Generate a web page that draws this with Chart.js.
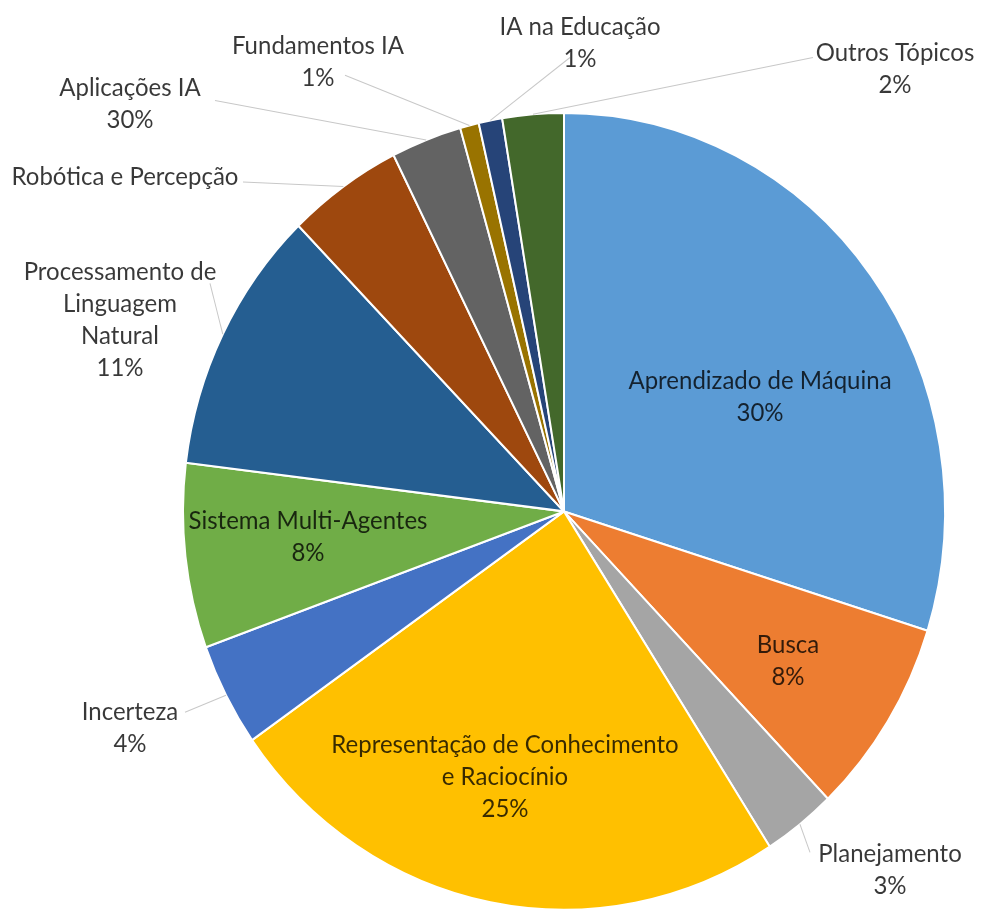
<!DOCTYPE html>
<html>
<head>
<meta charset="utf-8">
<title>Tópicos de IA</title>
<script src="https://cdn.jsdelivr.net/npm/chart.js@4.4.1/dist/chart.umd.min.js"></script>
<style>
  html, body { margin: 0; padding: 0; background: #fff; }
  #box { width: 989px; height: 914px; }
</style>
</head>
<body>
<div id="box"><canvas id="pieChart"></canvas></div>
<script>
const categories = [
  'Aprendizado de Máquina', 'Busca', 'Planejamento',
  'Representação de Conhecimento e Raciocínio', 'Incerteza',
  'Sistema Multi-Agentes', 'Processamento de Linguagem Natural',
  'Robótica e Percepção', 'Aplicações IA', 'Fundamentos IA',
  'IA na Educação', 'Outros Tópicos'
];
const shares = [29.9, 8.0, 3.1, 24.4, 4.2, 7.5, 10.8, 4.9, 3.0, 0.8, 1.0, 2.6];
// percentages as printed on the chart (Aplicações IA really says 30%, Robótica has none)
const pctLabels = ['30%', '8%', '3%', '25%', '4%', '8%', '11%', '', '30%', '1%', '1%', '2%'];

const colors = [
  '#5b9bd5', '#ed7d31', '#a5a5a5', '#ffc000', '#4472c4', '#70ad47',
  '#255e91', '#9e480e', '#636363', '#997300', '#264478', '#43682b'
];

// the original picture is a bit taller than wide, the pie is an ellipse
const stretchY = 1.0458;

// label placement, offsets from the pie centre; line = label end of the leader line
const labelSpots = [
  { dx: 196, dy: -109 },
  { dx: 224, dy: 143 },
  { dx: 326, dy: 343, line: [246, 326] },
  { dx: -59, dy: 254 },
  { dx: -434, dy: 207, line: [-379, 192] },
  { dx: -256, dy: 24 },
  { dx: -444, dy: -183, line: [-354, -218] },
  { dx: -439, dy: -320, line: [-321, -315] },
  { dx: -434, dy: -390, line: [-349, -393] },
  { dx: -246, dy: -430, line: [-219, -417] },
  { dx: 16, dy: -448, line: [6, -434] },
  { dx: 331, dy: -423, line: [249, -434] }
];
const wrapped = {
  3: ['Representação de Conhecimento', 'e Raciocínio'],
  6: ['Processamento de', 'Linguagem', 'Natural']
};

const pieLabels = {
  id: 'pieLabels',
  beforeDatasetsDraw(chart) {
    chart.ctx.save();
    chart.ctx.scale(1, stretchY);
  },
  afterDatasetsDraw(chart) {
    const ctx = chart.ctx;
    const arcs = chart.getDatasetMeta(0).data;
    const lh = 30.6;
    ctx.save();
    ctx.font = '24px Lato';
    ctx.textAlign = 'center';
    ctx.textBaseline = 'middle';
    arcs.forEach((arc, i) => {
      const p = arc.getProps(['x', 'y', 'startAngle', 'endAngle', 'outerRadius'], true);
      const spot = labelSpots[i];
      if (spot.line) {
        const mid = (p.startAngle + p.endAngle) / 2;
        ctx.strokeStyle = '#c8c8c8';
        ctx.lineWidth = 1;
        ctx.beginPath();
        ctx.moveTo(p.x + Math.cos(mid) * p.outerRadius, p.y + Math.sin(mid) * p.outerRadius);
        ctx.lineTo(p.x + spot.line[0], p.y + spot.line[1]);
        ctx.stroke();
      }
      const lines = (wrapped[i] || [categories[i]]).concat(pctLabels[i] ? [pctLabels[i]] : []);
      const top = p.y + spot.dy - (lines.length - 1) * lh / 2;
      ctx.fillStyle = 'rgba(0,0,0,0.78)';
      lines.forEach((t, k) => ctx.fillText(t, p.x + spot.dx, top + k * lh));
    });
    ctx.restore();
    ctx.restore();
  }
};

new Chart(document.getElementById('pieChart'), {
  type: 'pie',
  data: {
    labels: categories,
    datasets: [{
      data: shares,
      backgroundColor: colors,
      borderColor: '#ffffff',
      borderWidth: 2,
      hoverOffset: 0,
      clip: false
    }]
  },
  options: {
    responsive: true,
    maintainAspectRatio: false,
    devicePixelRatio: 1,
    animation: false,
    layout: { padding: { left: 182, right: 43, top: 107, bottom: 43 } },
    plugins: {
      legend: { display: false },
      tooltip: { enabled: false }
    }
  },
  plugins: [pieLabels]
});
</script>
</body>
</html>
